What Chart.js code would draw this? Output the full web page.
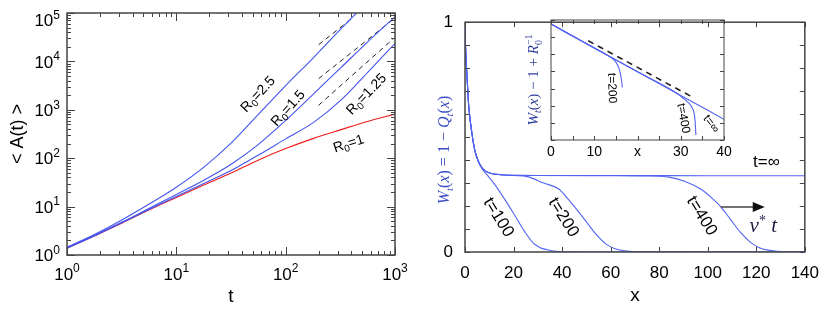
<!DOCTYPE html>
<html><head><meta charset="utf-8">
<script src="https://cdn.jsdelivr.net/npm/chart.js@4.4.1/dist/chart.umd.min.js"></script>
<style>
html,body{margin:0;padding:0;background:#fff;}
#wrap{position:relative;width:830px;height:313px;overflow:hidden;background:#fff;}
canvas{position:absolute;}
#cL{left:0;top:0;} #cR{left:415px;top:0;} #cI{left:505px;top:0;}
</style></head><body>
<div id="wrap">
<canvas id="cL" width="415" height="313"></canvas>
<canvas id="cR" width="415" height="313"></canvas>
<canvas id="cI" width="235" height="165"></canvas>
</div>
<script>
// ---------------- LEFT PANEL DATA ----------------
const tVals   = [1, 1.8, 3.2, 5.6, 10, 18, 32, 56, 100, 180, 320, 560, 1000];
const A_R1    = [1.38, 2.51, 4.57, 8.51, 15.5, 28.2, 50.1, 91.2, 158, 257, 389, 575, 813];
const A_R125  = [1.38, 2.51, 4.68, 8.71, 16.2, 30.2, 56.2, 115, 251, 550, 1585, 5890, 23400];
const A_R15   = [1.41, 2.57, 4.79, 9.12, 17.8, 35.5, 75.9, 191, 603, 2140, 7410, 25100, 83200];
const A_R25   = [1.45, 2.69, 5.37, 11.2, 25.1, 66.1, 209, 794, 3160, 12000, 46800, 170000, null];
const dash1T = [200, 400],  dash1A = [22100, 76000];
const dash2T = [200, 950],  dash2A = [4400, 72000];
const dash3T = [200, 966],  dash3A = [1240, 29400];
const leftLabels = ['R0=2.5', 'R0=1.5', 'R0=1.25', 'R0=1'];

// ---------------- RIGHT PANEL DATA ----------------
const xInf = [0, 0.2, 0.8, 1.5, 2.8, 4.1, 5.5, 6.8, 8.5, 10.9, 13, 16, 20, 30, 60, 100, 140];
const wInf = [1, 0.9, 0.77, 0.64, 0.52, 0.44, 0.395, 0.37, 0.352, 0.342, 0.338, 0.335, 0.334, 0.333, 0.333, 0.332, 0.332];
const x100 = [0, 0.2, 0.8, 1.5, 2.8, 4.1, 5.5, 7, 9.7, 12.3, 16.3, 20.4, 24.4, 28.4, 31, 33.8, 36.5, 40, 140];
const w100 = [1, 0.9, 0.77, 0.64, 0.52, 0.44, 0.392, 0.362, 0.328, 0.293, 0.23, 0.161, 0.092, 0.036, 0.019, 0.01, 0.004, 0.001, 0];
const x200 = [0, 0.2, 0.8, 1.5, 2.8, 4.1, 5.5, 6.8, 8.5, 10.9, 13, 16, 20, 25.7, 32.4, 38.5, 42.3, 46.4, 50.4, 54.4, 58.4, 62.5, 67.8, 73, 140];
const w200 = [1, 0.9, 0.77, 0.64, 0.52, 0.44, 0.395, 0.37, 0.352, 0.342, 0.338, 0.335, 0.333, 0.328, 0.30, 0.275, 0.232, 0.18, 0.126, 0.072, 0.032, 0.012, 0.003, 0, 0];
const x400 = [0, 0.2, 0.8, 1.5, 2.8, 4.1, 5.5, 6.8, 8.5, 10.9, 13, 16, 20, 30, 60, 75, 84, 90.7, 97.4, 101.4, 105.4, 109.5, 113.5, 117.5, 121, 125, 129, 134, 140];
const w400 = [1, 0.9, 0.77, 0.64, 0.52, 0.44, 0.395, 0.37, 0.352, 0.342, 0.338, 0.335, 0.334, 0.333, 0.332, 0.331, 0.326, 0.307, 0.272, 0.2375, 0.196, 0.14, 0.085, 0.043, 0.02, 0.008, 0.003, 0, 0];
const rightLabels = ['t=100', 't=200', 't=400', 't=∞'];
const arrowFrom = [105.4, 0.196], arrowTo = [123.5, 0.196];

// ---------------- INSET DATA ----------------
const xiInf = [0, 5, 10, 20, 30, 40];
const yiInf = [0.585, 0.116, 0.0234, 9.5e-4, 3.98e-5, 1.62e-6];
const xi200 = [0, 5, 10, 12, 13.5, 14.7, 15.5, 15.9, 16.3, 16.5];
const yi200 = [0.585, 0.116, 0.0234, 0.0126, 0.00759, 0.00437, 0.00209, 0.00107, 3.16e-4, 1.17e-4];
const xi400 = [0, 5, 10, 20, 29, 30.2, 31.5, 32.5, 33.3, 33.5];
const yi400 = [0.585, 0.116, 0.0234, 9.5e-4, 5.5e-5, 3.24e-5, 1.74e-5, 8.7e-6, 1.48e-6, 1.95e-7];
const xiDash = [8.6, 32.5], yiDash = [0.0617, 3.39e-5];
const insetLabels = ['t=200', 't=400', 't=∞'];

// ---------------- tick value lists ----------------
function logTickList(minExp, maxExp){ const a=[]; for(let e=minExp;e<maxExp;e++){for(let m=1;m<10;m++) a.push(m*Math.pow(10,e));} a.push(Math.pow(10,maxExp)); return a; }
const tTickVals = logTickList(0,3);
const aTickVals = logTickList(0,5);
const insetYTicks = [1e-7,1e-6,1e-5,1e-4,1e-3,1e-2,1e-1,1];

const BLUE = '#4353f0', BLUE2 = '#5263f0', RED = '#f01c1c';
const SANS = "'Liberation Sans', Arial, sans-serif";
const SERIF = "'Liberation Serif', 'DejaVu Serif', serif";
Chart.defaults.font.family = SANS;
Chart.defaults.color = '#000';

const pts = (xs, ys) => xs.map((x,i)=>({x, y: ys[i]})).filter(p=>p.y!==null);
const curve = (xs, ys, c) => ({data: pts(xs,ys), borderColor:c, borderWidth:1.1, pointRadius:0, fill:false, cubicInterpolationMode:'monotone'});
const dashed = (xs, ys, w, d) => ({data: pts(xs,ys), borderColor:'#222', borderWidth:w, borderDash:d, pointRadius:0, fill:false, tension:0});

function drawRich(ctx, cx, cy, rotDeg, segs, base){
  ctx.save();
  ctx.translate(cx, cy);
  ctx.rotate(rotDeg*Math.PI/180);
  let w = 0;
  const m = segs.map(s => {
    const sz = s.size || base.size;
    const font = (s.italic ? 'italic ' : '') + sz + 'px ' + (base.family || SANS);
    ctx.font = font;
    const sw = ctx.measureText(s.t).width;
    const r = {t:s.t, font, dy:(s.dy||0), adv: s.noAdv ? 0 : sw};
    w += r.adv; return r;
  });
  let x = -w/2;
  ctx.fillStyle = base.color || '#000';
  ctx.textBaseline = 'alphabetic'; ctx.textAlign = 'left';
  const by = base.size*0.36;
  m.forEach(r => { ctx.font = r.font; ctx.fillText(r.t, x, by + r.dy); x += r.adv; });
  ctx.restore();
}

// inward ticks on all four sides + frame
const frameTicks = {
  id:'frameTicks',
  afterDatasetsDraw(chart, args, o){
    const {ctx, chartArea:a, scales} = chart;
    ctx.save();
    ctx.strokeStyle = o.color || '#444';
    ctx.lineWidth = 1;
    ['x','y'].forEach(id => {
      const s = scales[id];
      s.ticks.forEach(t => {
        const v = t.value;
        let major = true;
        if (s.type === 'logarithmic') { const l = Math.log10(v); major = Math.abs(l - Math.round(l)) < 1e-6; }
        const len = major ? o.major : o.minor;
        if (!len) return;
        const p = Math.round(s.getPixelForValue(v)) + 0.5;
        ctx.beginPath();
        if (id === 'x') { ctx.moveTo(p, a.bottom); ctx.lineTo(p, a.bottom-len); ctx.moveTo(p, a.top); ctx.lineTo(p, a.top+len); }
        else { ctx.moveTo(a.left, p); ctx.lineTo(a.left+len, p); ctx.moveTo(a.right, p); ctx.lineTo(a.right-len, p); }
        ctx.stroke();
      });
    });
    ctx.lineWidth = o.frameWidth || 1.5;
    ctx.strokeRect(a.left, a.top, a.right-a.left, a.bottom-a.top);
    ctx.restore();
  }
};

// "10^n" tick labels for log axes
const logLabels = {
  id:'logLabels',
  afterDraw(chart, args, o){
    if (!o || !o.axes) return;
    const {ctx, chartArea:a, scales} = chart;
    o.axes.forEach(id => {
      const s = scales[id];
      for (let e = Math.round(Math.log10(s.min)); e <= Math.round(Math.log10(s.max)); e++) {
        const p = s.getPixelForValue(Math.pow(10,e));
        ctx.save();
        ctx.fillStyle = '#000'; ctx.textBaseline = 'alphabetic'; ctx.textAlign = 'left';
        ctx.font = o.size + 'px ' + SANS; const w1 = ctx.measureText('10').width;
        ctx.font = o.sup + 'px ' + SANS; const w2 = ctx.measureText(String(e)).width;
        let x0, yc;
        if (id === 'x') { x0 = p - (w1+w2)/2; yc = a.bottom + o.xOffset; }
        else { x0 = a.left - o.yGap - (w1+w2); yc = Math.max(p, a.top + 7); }
        const base = yc + o.size*0.36;
        ctx.font = o.size + 'px ' + SANS; ctx.fillText('10', x0, base);
        ctx.font = o.sup + 'px ' + SANS; ctx.fillText(String(e), x0 + w1, base - o.size*0.43);
        ctx.restore();
      }
    });
  }
};

// free text notes anchored to data (or pixel) coordinates
const notes = {
  id:'notes',
  afterDraw(chart, args, o){
    if (!o || !o.items) return;
    const {ctx, scales} = chart;
    o.items.forEach(it => {
      const px = it.px ? it.px[0] : scales.x.getPixelForValue(it.x);
      const py = it.px ? it.px[1] : scales.y.getPixelForValue(it.y);
      drawRich(ctx, px, py, it.rot || 0, it.segs, it.base);
    });
  }
};

const arrow = {
  id:'arrow',
  afterDraw(chart, args, o){
    if (!o || !o.from) return;
    const {ctx, scales} = chart;
    const x1 = scales.x.getPixelForValue(o.from[0]), y1 = scales.y.getPixelForValue(o.from[1]);
    const x2 = scales.x.getPixelForValue(o.to[0]),   y2 = scales.y.getPixelForValue(o.to[1]);
    ctx.save();
    ctx.strokeStyle = '#444'; ctx.lineWidth = 1.5;
    ctx.beginPath(); ctx.moveTo(x1, y1); ctx.lineTo(x2-10, y2); ctx.stroke();
    ctx.fillStyle = '#111';
    ctx.beginPath(); ctx.moveTo(x2, y2); ctx.lineTo(x2-12, y2-5); ctx.lineTo(x2-12, y2+5); ctx.closePath(); ctx.fill();
    ctx.restore();
  }
};

const noGrid = {display:false, drawTicks:false};
const base17 = {size:17, family:SANS, color:'#000'};
const r0 = (lab) => { const rest = lab.slice(2); return [{t:'R'},{t:'0', size:10, dy:3},{t:rest}]; };
const baseR = {size:14, family:SANS, color:'#000'};

// ---------------- LEFT CHART ----------------
new Chart(document.getElementById('cL'), {
  type:'line',
  data:{datasets:[
    curve(tVals, A_R25, BLUE), curve(tVals, A_R15, BLUE), curve(tVals, A_R125, BLUE), curve(tVals, A_R1, RED),
    dashed(dash1T, dash1A, 1, [5,4]), dashed(dash2T, dash2A, 1, [5,4]), dashed(dash3T, dash3A, 1, [5,4])
  ]},
  options:{
    responsive:false, animation:false, events:[],
    layout:{padding:{left:0, top:13, right:20, bottom:0}},
    plugins:{
      legend:{display:false}, tooltip:{enabled:false},
      frameTicks:{major:8, minor:4, color:'#444', frameWidth:1.5},
      logLabels:{axes:['x','y'], size:17, sup:12, xOffset:18.5, yGap:7},
      notes:{items:[
        {x:55.2, y:2160, rot:-47, segs:r0(leftLabels[0]), base:baseR},
        {x:104,  y:1110, rot:-48, segs:r0(leftLabels[1]), base:baseR},
        {x:541,  y:2160, rot:-46, segs:r0(leftLabels[2]), base:baseR},
        {x:375,  y:207,  rot:-18, segs:r0(leftLabels[3]), base:baseR}
      ]}
    },
    scales:{
      x:{type:'logarithmic', min:1, max:1000, grid:noGrid, border:{display:false},
         ticks:{display:false}, afterBuildTicks:s=>{s.ticks = tTickVals.map(v=>({value:v}));},
         afterFit:s=>{s.height = 58;},
         title:{display:true, text:'t', font:{size:19}, padding:{top:0, bottom:5}}},
      y:{type:'logarithmic', min:1, max:1e5, grid:noGrid, border:{display:false},
         ticks:{display:false}, afterBuildTicks:s=>{s.ticks = aTickVals.map(v=>({value:v}));},
         afterFit:s=>{s.width = 67;},
         title:{display:true, text:'< A(t) >', font:{size:18}, padding:{top:7, bottom:0}}}
    }
  },
  plugins:[frameTicks, logLabels, notes]
});

// ---------------- RIGHT CHART ----------------
const it = {italic:true};
new Chart(document.getElementById('cR'), {
  type:'line',
  data:{datasets:[
    curve(xInf, wInf, BLUE2), curve(x100, w100, BLUE2), curve(x200, w200, BLUE2), curve(x400, w400, BLUE2)
  ]},
  options:{
    responsive:false, animation:false, events:[],
    layout:{padding:{left:0, top:12, right:17, bottom:0}},
    plugins:{
      legend:{display:false}, tooltip:{enabled:false},
      frameTicks:{major:5, minor:5, color:'#444', frameWidth:1.5},
      arrow:{from:arrowFrom, to:arrowTo},
      notes:{items:[
        {x:14.2, y:0.153, rot:58, segs:[{t:rightLabels[0]}], base:base17},
        {x:41.0, y:0.153, rot:58, segs:[{t:rightLabels[1]}], base:base17},
        {x:98.0, y:0.16,  rot:58, segs:[{t:rightLabels[2]}], base:base17},
        {x:124.2, y:0.397, rot:0, segs:[{t:rightLabels[3]}], base:base17},
        {x:122.9, y:0.12, rot:0, segs:[{t:'v', italic:true},{t:'*', size:14, dy:-7},{t:' t', italic:true}], base:{size:21, family:SERIF, color:'#1c1c44'}},
        {px:[28, 150], rot:-90, segs:[
          {t:'W', italic:true},{t:'t', italic:true, size:11, dy:4},{t:'('},{t:'x', italic:true},{t:') = 1 − '},
          {t:'Q', italic:true},{t:'t', italic:true, size:11, dy:4},{t:'('},{t:'x', italic:true},{t:')'}
        ], base:{size:16, family:SERIF, color:'#3a4cc4'}}
      ]}
    },
    scales:{
      x:{type:'linear', min:0, max:140, grid:noGrid, border:{display:false},
         ticks:{stepSize:20, font:{size:17}, padding:11, autoSkip:false, maxRotation:0},
         afterFit:s=>{s.height = 61;},
         title:{display:true, text:'x', font:{size:19}, padding:{top:0, bottom:6}}},
      y:{type:'linear', min:0, max:1, grid:noGrid, border:{display:false},
         ticks:{stepSize:0.1, font:{size:17}, padding:12, autoSkip:false,
                callback:v=> Math.abs(v-1)<1e-9 ? '1' : (Math.abs(v)<1e-9 ? '0' : '')},
         afterFit:s=>{s.width = 50;}}
    }
  },
  plugins:[frameTicks, arrow, notes]
});

// ---------------- INSET CHART ----------------
new Chart(document.getElementById('cI'), {
  type:'line',
  data:{datasets:[
    curve(xiInf, yiInf, BLUE2), curve(xi200, yi200, BLUE2), curve(xi400, yi400, BLUE2),
    dashed(xiDash, yiDash, 1.6, [6,5])
  ]},
  options:{
    responsive:false, animation:false, events:[],
    layout:{padding:{left:0, top:20, right:16, bottom:0}},
    plugins:{
      legend:{display:false}, tooltip:{enabled:false},
      frameTicks:{major:4, minor:4, color:'#444', frameWidth:1},
      notes:{items:[
        {x:14.3, y:1.07e-4, rot:88, segs:[{t:insetLabels[0]}], base:{size:12, family:SANS, color:'#000'}},
        {x:30.8, y:1.86e-6, rot:80, segs:[{t:insetLabels[1]}], base:{size:12, family:SANS, color:'#000'}},
        {x:37.2, y:9.3e-7, rot:52, segs:[{t:insetLabels[2]}], base:{size:12, family:SANS, color:'#000'}},
        {px:[28, 80], rot:-90, segs:[
          {t:'W', italic:true},{t:'t', italic:true, size:10, dy:3},{t:'('},{t:'x', italic:true},{t:') − 1 + '},
          {t:'R', italic:true},{t:'0', size:10, dy:4, noAdv:true},{t:'−1', size:10, dy:-6}
        ], base:{size:15, family:SERIF, color:'#2e3f9c'}}
      ]}
    },
    scales:{
      x:{type:'linear', min:0, max:40, grid:noGrid, border:{display:false},
         ticks:{stepSize:5, font:{size:14}, padding:4, autoSkip:false, maxRotation:0,
                callback:v=> (v%10===0) ? (v===20 ? 'x' : String(v)) : ''},
         afterFit:s=>{s.height = 25;}},
      y:{type:'logarithmic', min:1e-7, max:1, grid:noGrid, border:{display:false},
         ticks:{display:false}, afterBuildTicks:s=>{s.ticks = insetYTicks.map(v=>({value:v}));},
         afterFit:s=>{s.width = 46;}}
    }
  },
  plugins:[frameTicks, notes]
});
</script>
</body></html>
